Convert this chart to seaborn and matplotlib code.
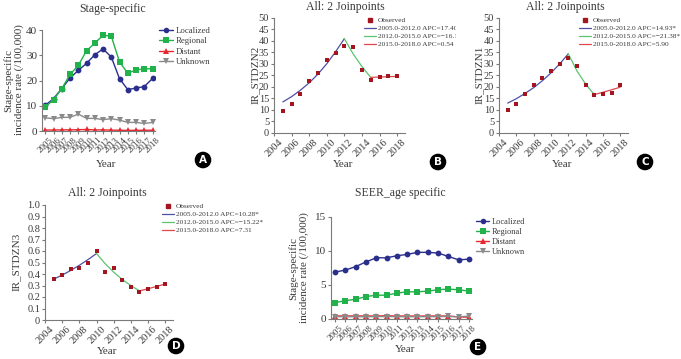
import matplotlib
matplotlib.use('Agg')
import matplotlib.pyplot as plt
import seaborn as sns
import pandas as pd
from matplotlib.lines import Line2D
from matplotlib.transforms import Bbox, TransformedBbox, IdentityTransform

# data
years = list(range(2005, 2019))

localized = [10.2, 12.8, 16.8, 21.0, 24.0, 26.8, 30.2, 32.5, 29.3, 20.7, 16.4, 17.0, 17.6, 20.8]
regional = [9.5, 12.4, 16.8, 22.4, 26.0, 31.8, 34.8, 37.9, 37.6, 27.3, 22.9, 24.2, 24.6, 24.7]
distant = [0.36, 0.39, 0.44, 0.45, 0.50, 0.60, 0.42, 0.45, 0.35, 0.29, 0.24, 0.27, 0.29, 0.31]
unknown = [5.2, 4.9, 5.4, 5.4, 6.7, 5.0, 5.0, 4.5, 4.9, 4.3, 3.4, 3.4, 3.0, 3.4]

seer_localized = [6.9, 7.2, 7.7, 8.4, 9.0, 9.0, 9.3, 9.5, 9.8, 9.8, 9.7, 9.2, 8.7, 8.8]
seer_regional = [2.4, 2.7, 2.9, 3.3, 3.5, 3.5, 3.8, 4.0, 4.0, 4.1, 4.3, 4.4, 4.3, 4.1]
seer_distant = [0.45, 0.44, 0.45, 0.44, 0.45, 0.47, 0.44, 0.44, 0.43, 0.44, 0.44, 0.44, 0.30, 0.28]
seer_unknown = [0.35, 0.33, 0.34, 0.33, 0.35, 0.36, 0.34, 0.33, 0.34, 0.34, 0.35, 0.38, 0.33, 0.42]

stages = ['Localized', 'Regional', 'Distant', 'Unknown']

# joinpoint fits (read per year from the fitted lines)
seg1_years = list(range(2005, 2013))
seg2_years = list(range(2012, 2016))
seg3_years = list(range(2015, 2019))
fit_b1 = [13.5, 15.8, 18.6, 21.8, 25.6, 30.1, 35.3, 41.0]
fit_b2 = [41.0, 34.4, 28.9, 24.2]
fit_b3 = [24.2, 24.3, 24.5, 24.6]
fit_c1 = [13.0, 14.9, 17.2, 19.7, 22.7, 26.1, 30.0, 34.4]
fit_c2 = [34.4, 27.0, 21.3, 16.7]
fit_c3 = [16.7, 17.7, 18.8, 19.9]
d_seg1_years = list(range(2005, 2011))
d_seg2_years = list(range(2010, 2016))
fit_d1 = [0.355, 0.391, 0.431, 0.476, 0.525, 0.578]
fit_d2 = [0.578, 0.490, 0.416, 0.352, 0.299, 0.253]
fit_d3 = [0.253, 0.272, 0.292, 0.313]

labels_b = ['2005.0-2012.0 APC=17.40*', '2012.0-2015.0 APC=\u221216.11*', '2015.0-2018.0 APC=0.54']
labels_c = ['2005.0-2012.0 APC=14.93*', '2012.0-2015.0 APC=\u221221.38*', '2015.0-2018.0 APC=5.90']
labels_d = ['2005.0-2012.0 APC=10.28*', '2012.0-2015.0 APC=\u221215.22*', '2015.0-2018.0 APC=7.31']

stage_colors = {'Localized': '#2b2f8c', 'Regional': '#22b24c', 'Distant': '#e8282e', 'Unknown': '#8a8a8a'}
stage_markers = {'Localized': 'o', 'Regional': 's', 'Distant': '^', 'Unknown': 'v'}
seg_colors = ['#4f4fa6', '#5cc46e', '#e0474c']
obs_color = '#a3161f'

sns.set_style('ticks')
plt.rcParams['font.family'] = ['Liberation Serif', 'DejaVu Serif']
text_col = '#3a3a3a'
plt.rcParams['text.color'] = text_col
plt.rcParams['axes.edgecolor'] = '#7a7a7a'
plt.rcParams['xtick.color'] = '#7a7a7a'
plt.rcParams['ytick.color'] = '#7a7a7a'
plt.rcParams['xtick.labelcolor'] = text_col
plt.rcParams['ytick.labelcolor'] = text_col

W, H = 681, 359
fig = plt.figure(figsize=(W / 100, H / 100), dpi=100)


def px_axes(l, t, r, b):
    return fig.add_axes([l / W, 1 - b / H, (r - l) / W, (b - t) / H])


def ftext(x, y, s, **kw):
    return fig.text(x / W, 1 - y / H, s, **kw)


def stage_panel(ax, vals):
    df = pd.DataFrame({
        'year': years * 4,
        'rate': sum(vals, []),
        'stage': sum([[s] * len(years) for s in stages], []),
    })
    sns.lineplot(data=df, x='year', y='rate', hue='stage', style='stage',
                 palette=stage_colors, markers=stage_markers, dashes=False,
                 markersize=4.2, markeredgewidth=0, linewidth=1.0,
                 legend=False, ax=ax)
    ax.set_xticks(years)
    ax.set_xticklabels([str(y) for y in years], rotation=45, fontsize=6.5)
    ax.set_xlim(2004.6, 2018.3)
    ax.set_xlabel('')
    ax.set_ylabel('')
    sns.despine(ax=ax)
    ax.tick_params(length=2.5, width=0.8, pad=1)
    ax.tick_params(axis='y', labelsize=8)


def stage_handles():
    return [Line2D([], [], color=stage_colors[s], marker=stage_markers[s], markersize=4,
                   markeredgewidth=0, linewidth=1.0) for s in stages]


def joinpoint_panel(ax, obs, fits, fit_years):
    sns.scatterplot(x=years, y=obs, marker='s', s=9, color=obs_color,
                    linewidth=0, ax=ax, zorder=3)
    for fy, fv, c in zip(fit_years, fits, seg_colors):
        sns.lineplot(x=fy, y=fv, color=c, linewidth=0.9, ax=ax)
    ax.set_xticks(range(2004, 2019, 2))
    ax.set_xticklabels([str(y) for y in range(2004, 2019, 2)], rotation=45, fontsize=7.5)
    ax.set_xlim(2004, 2018.9)
    sns.despine(ax=ax)
    ax.tick_params(length=2.5, width=0.8, pad=1)
    ax.tick_params(axis='y', labelsize=7.5)


def joinpoint_handles():
    h = [Line2D([], [], color=obs_color, marker='s', markersize=2.6, linewidth=0)]
    h += [Line2D([], [], color=c, linewidth=0.9) for c in seg_colors]
    return h


def put_legend(handles, labels, x, y, size, clip_x=None):
    leg = fig.legend(handles, labels, loc='upper left', bbox_to_anchor=(x / W, 1 - y / H),
                     frameon=False, fontsize=size, borderpad=0, borderaxespad=0,
                     handlelength=1.6, handletextpad=0.3, labelspacing=0.25)
    if clip_x is not None:
        box = TransformedBbox(Bbox.from_extents(0, 0, clip_x, H), IdentityTransform())
        for t in leg.get_texts():
            t.set_clip_box(box)
            t.set_clip_on(True)
    return leg


def badge(x, y, letter):
    ftext(x, y, letter, ha='center', va='center', color='white', fontsize=7.5,
          fontweight='bold', family='DejaVu Sans',
          bbox=dict(boxstyle='circle,pad=0.25', fc='black', ec='black'))


# A
axA = px_axes(42, 30, 155, 131)
stage_panel(axA, [localized, regional, distant, unknown])
axA.set_ylim(0, 40)
axA.set_yticks([0, 10, 20, 30, 40])
ftext(113, 9, 'Stage-specific', ha='center', va='center', fontsize=8.5)
ftext(14, 80, 'Stage-specific\nincidence rate (/100,000)', ha='center', va='center',
      rotation=90, fontsize=8, linespacing=1.1)
ftext(106, 165, 'Year', ha='center', va='center', fontsize=8)
put_legend(stage_handles(), stages, 159, 27, 6.3, clip_x=230)
badge(203, 160, 'A')

# B
axB = px_axes(274, 18, 405, 133)
joinpoint_panel(axB, regional, [fit_b1, fit_b2, fit_b3], [seg1_years, seg2_years, seg3_years])
axB.set_ylim(0, 50)
axB.set_yticks(range(0, 51, 5))
ftext(345, 7, 'All: 2 Joinpoints', ha='center', va='center', fontsize=8.5)
ftext(255, 75, 'IR_STDZN2', ha='center', va='center', rotation=90, fontsize=8)
ftext(343, 165, 'Year', ha='center', va='center', fontsize=8)
put_legend(joinpoint_handles(), ['Observed'] + labels_b, 364, 17, 5.3, clip_x=456)
badge(438, 162, 'B')

# C
axC = px_axes(499, 18, 628, 133)
joinpoint_panel(axC, localized, [fit_c1, fit_c2, fit_c3], [seg1_years, seg2_years, seg3_years])
axC.set_ylim(0, 50)
axC.set_yticks(range(0, 51, 5))
ftext(565, 7, 'All: 2 Joinpoints', ha='center', va='center', fontsize=8.5)
ftext(479, 75, 'IR_STDZN1', ha='center', va='center', rotation=90, fontsize=8)
ftext(562, 165, 'Year', ha='center', va='center', fontsize=8)
put_legend(joinpoint_handles(), ['Observed'] + labels_c, 579, 17, 5.3)
badge(645, 162, 'C')

# D
axD = px_axes(45, 205, 173, 320)
joinpoint_panel(axD, distant, [fit_d1, fit_d2, fit_d3], [d_seg1_years, d_seg2_years, seg3_years])
axD.set_ylim(0, 1.0)
axD.set_yticks([i / 10 for i in range(11)])
axD.set_yticklabels(['0'] + ['%.1f' % (i / 10) for i in range(1, 11)])
ftext(107, 193, 'All: 2 Joinpoints', ha='center', va='center', fontsize=8.5)
ftext(16, 262, 'IR_STDZN3', ha='center', va='center', rotation=90, fontsize=8)
ftext(107, 351, 'Year', ha='center', va='center', fontsize=8)
put_legend(joinpoint_handles(), ['Observed'] + labels_d, 162, 203, 5.3)
badge(176, 346, 'D')

# E
axE = px_axes(331, 217, 472, 319)
stage_panel(axE, [seer_localized, seer_regional, seer_distant, seer_unknown])
axE.set_ylim(0, 15)
axE.set_yticks([0, 5, 10, 15])
ftext(400, 193, 'SEER_age specific', ha='center', va='center', fontsize=8.5)
ftext(299, 268, 'Stage-specific\nincidence rate (/100,000)', ha='center', va='center',
      rotation=90, fontsize=8, linespacing=1.1)
ftext(405, 350, 'Year', ha='center', va='center', fontsize=8)
put_legend(stage_handles(), stages, 476, 218, 6)
badge(478, 347, 'E')

fig.savefig('out.png', dpi=100)
